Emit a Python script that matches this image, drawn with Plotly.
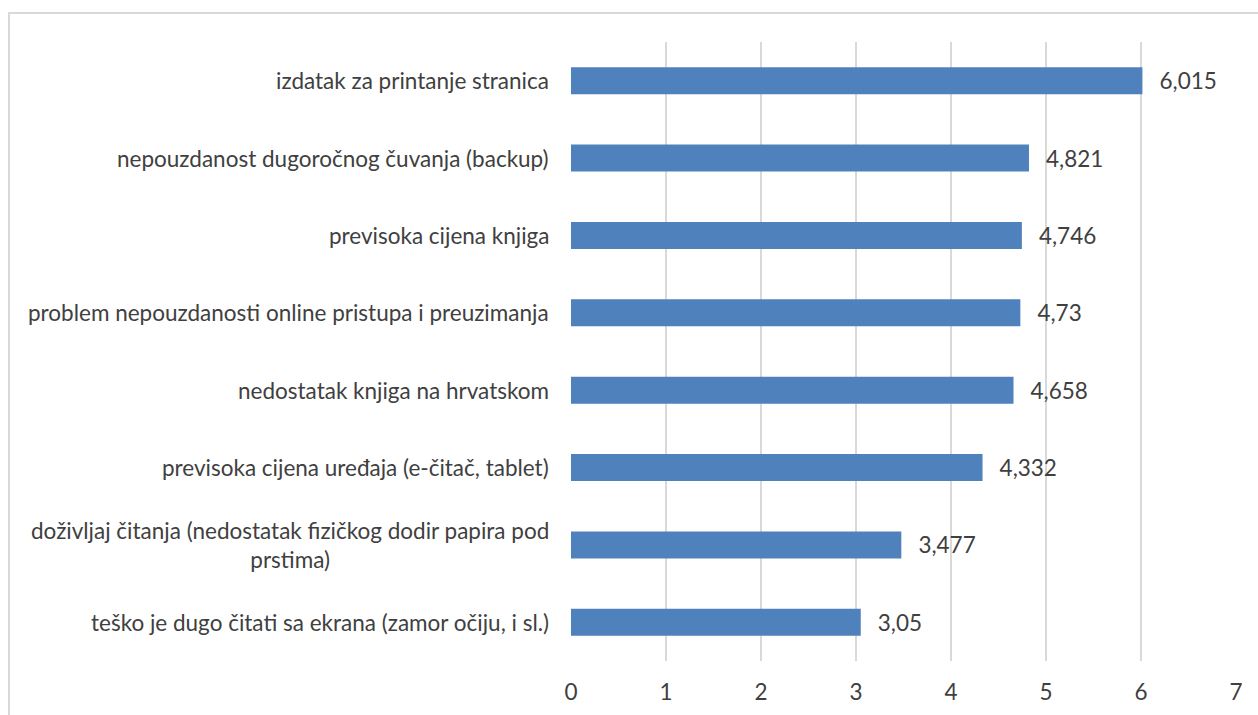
import plotly.graph_objects as go

categories = [
    "izdatak za printanje stranica",
    "nepouzdanost dugoročnog čuvanja (backup)",
    "previsoka cijena knjiga",
    "problem nepouzdanosti online pristupa i preuzimanja",
    "nedostatak knjiga na hrvatskom",
    "previsoka cijena uređaja (e-čitač, tablet)",
    "doživljaj čitanja (nedostatak fizičkog dodir papira pod<br>prstima)",
    "teško je dugo čitati sa ekrana (zamor očiju, i sl.)",
]
values = [6.015, 4.821, 4.746, 4.73, 4.658, 4.332, 3.477, 3.05]
value_labels = ["6,015", "4,821", "4,746", "4,73", "4,658", "4,332", "3,477", "3,05"]
x_ticks = [0, 1, 2, 3, 4, 5, 6, 7]

FONT = "Lato"
FS = 22.5
W, H = 1258, 715
L, R, T, B = 571, 22, 42, 54
PW, PH = W - L - R, H - T - B

fig = go.Figure()
fig.add_trace(go.Bar(
    y=categories,
    x=values,
    orientation="h",
    marker=dict(color="#4F81BD", line=dict(width=0)),
    width=0.35,
    text=["\u2002\u2009" + t for t in value_labels],
    textposition="outside",
    cliponaxis=False,
    textfont=dict(family=FONT, size=FS, color="#404040"),
    hoverinfo="skip",
))

annotations = []
for c in categories:
    annotations.append(dict(
        x=-20 / PW, xref="paper", y=c, yref="y",
        text=c, showarrow=False, xanchor="right", yanchor="middle",
        align="center", font=dict(family=FONT, size=FS, color="#404040"),
    ))

fig.update_layout(
    width=W, height=H,
    margin=dict(l=L, r=R, t=T, b=B, autoexpand=False),
    paper_bgcolor="white", plot_bgcolor="white",
    showlegend=False,
    annotations=annotations,
    shapes=[dict(type="rect", xref="paper", yref="paper",
                 x0=-(L - 9) / PW, x1=(W - L + 5) / PW,
                 y0=-(B + 10) / PH, y1=(H - B - 13) / PH,
                 line=dict(color="#D9D9D9", width=2), layer="below")],
    xaxis=dict(
        range=[0, 7], tickvals=x_ticks, ticktext=[str(t) for t in x_ticks],
        showgrid=True, gridcolor="#D9D9D9", gridwidth=1.5,
        zeroline=False, showline=False, ticks="",
        tickfont=dict(family=FONT, size=FS, color="#404040"),
        ticklabelstandoff=15, automargin=False,
    ),
    yaxis=dict(
        categoryorder="array", categoryarray=categories,
        autorange="reversed", showticklabels=False, automargin=False,
        showgrid=False, zeroline=False, showline=False, ticks="",
    ),
)

fig.write_html("out.html", config={"displayModeBar": False},
               post_script="document.body.style.margin='0';document.body.style.overflow='hidden';")
